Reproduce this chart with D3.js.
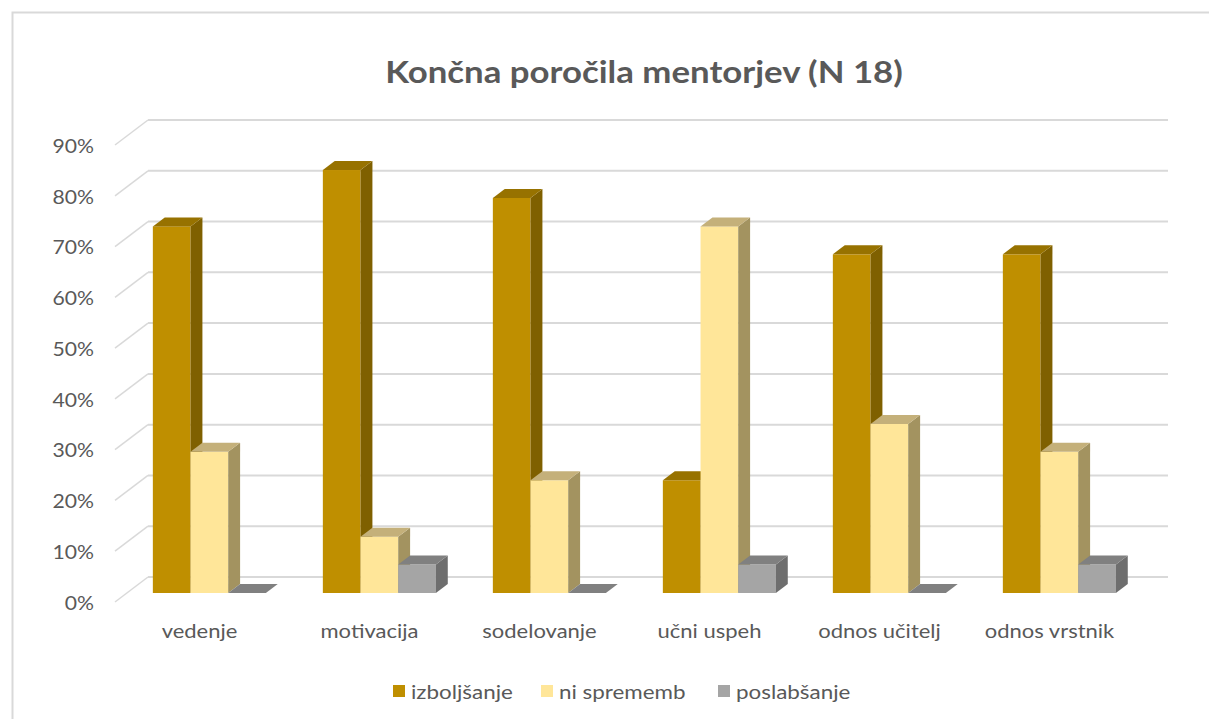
<!DOCTYPE html>
<html lang="sl">
<head>
<meta charset="utf-8">
<title>Končna poročila mentorjev</title>
<script src="https://cdn.jsdelivr.net/npm/d3@7"></script>
<style>
  body { margin: 0; background: #fff; }
  text { font-family: Lato, "Open Sans", sans-serif; fill: #595959; }
</style>
</head>
<body>
<script>
// data
var categories = ["vedenje", "motivacija", "sodelovanje", "učni uspeh", "odnos učitelj", "odnos vrstnik"];
var seriesNames = ["izboljšanje", "ni sprememb", "poslabšanje"];
var izboljsanje = [0.722, 0.833, 0.778, 0.222, 0.667, 0.667];
var niSprememb  = [0.278, 0.111, 0.222, 0.722, 0.333, 0.278];
var poslabsanje = [0, 0.056, 0, 0.056, 0, 0.056];
var yTicks = [0, 0.1, 0.2, 0.3, 0.4, 0.5, 0.6, 0.7, 0.8, 0.9];

var W = 1209, H = 719;
var svg = d3.select("body").append("svg").attr("width", W).attr("height", H);

// chart border (only left/top are in view)
svg.append("rect").attr("x", 12.5).attr("y", 12.5).attr("width", 1300).attr("height", 800)
  .attr("fill", "none").attr("stroke", "#d9d9d9").attr("stroke-width", 2);

// front plane scales + depth offset
var x0 = d3.scaleBand().domain(categories).range([115, 1135])
  .paddingInner(0.335).paddingOuter(0.1675).align(0.456);
var x1 = d3.scaleBand().domain(d3.range(3)).range([0, x0.bandwidth()]);
var y = d3.scaleLinear().domain([0, 0.9]).range([602, 145]);
var DX = 33, DY = -25;
function px(x, d) { return x + DX * d; }
function py(v, d) { return y(v) + DY * d; }

// walls
var grid = svg.append("g");
yTicks.forEach(function(t) {
  grid.append("line")
    .attr("x1", px(115, 0)).attr("y1", py(t, 0))
    .attr("x2", px(115, 1)).attr("y2", py(t, 1))
    .attr("stroke", "#d9d9d9").attr("stroke-width", 1.5);
  grid.append("line")
    .attr("x1", px(115, 1)).attr("y1", py(t, 1))
    .attr("x2", px(1135, 1)).attr("y2", py(t, 1))
    .attr("stroke", "#d9d9d9").attr("stroke-width", 2);
});

// y labels
svg.append("g").selectAll("text").data(yTicks).enter().append("text")
  .attr("transform", function(d) { return "translate(94," + y(d) + ") scale(1.06,1)"; })
  .attr("text-anchor", "end").attr("dominant-baseline", "central")
  .style("font-size", "20px")
  .text(d3.format(".0%"));

// bars
var colors = [
  { front: "#bf8f00", side: "#7f6000", top: "#977200" },
  { front: "#ffe699", side: "#a39360", top: "#c4b07a" },
  { front: "#a5a5a5", side: "#6e6e6e", top: "#808080" }
];
var seriesValues = [izboljsanje, niSprememb, poslabsanje];
var dFront = 0.36, dBack = 0.72;

var bars = [];
categories.forEach(function(c, i) {
  seriesValues.forEach(function(vals, s) {
    bars.push({ cat: c, s: s, v: vals[i] });
  });
});

var barG = svg.append("g");
bars.forEach(function(b) {
  var xl = x0(b.cat) + x1(b.s), xr = xl + x1.bandwidth();
  var col = colors[b.s];
  var g = barG.append("g");
  if (b.v > 0) {
    g.append("rect")
      .attr("x", px(xl, dFront)).attr("y", py(b.v, dFront))
      .attr("width", xr - xl).attr("height", y(0) - y(b.v))
      .attr("fill", col.front);
    g.append("path")
      .attr("d", "M" + px(xr, dFront) + "," + py(0, dFront) +
        "L" + px(xr, dFront) + "," + py(b.v, dFront) +
        "L" + px(xr, dBack) + "," + py(b.v, dBack) +
        "L" + px(xr, dBack) + "," + py(0, dBack) + "Z")
      .attr("fill", col.side);
  }
  g.append("path")
    .attr("d", "M" + px(xl, dFront) + "," + py(b.v, dFront) +
      "L" + px(xr, dFront) + "," + py(b.v, dFront) +
      "L" + px(xr, dBack) + "," + py(b.v, dBack) +
      "L" + px(xl, dBack) + "," + py(b.v, dBack) + "Z")
    .attr("fill", col.top);
});

// category labels
svg.append("g").selectAll("text").data(categories).enter().append("text")
  .attr("transform", function(d) {
    return "translate(" + (x0(d) + x0.bandwidth() / 2 + 2) + ",638) scale(1.1,1)";
  })
  .attr("text-anchor", "middle")
  .style("font-size", "20px")
  .text(function(d) { return d; });

// title
svg.append("text")
  .attr("transform", "translate(644,83) scale(1.16,1)")
  .attr("text-anchor", "middle")
  .style("font-size", "30px").style("font-weight", "bold")
  .text("Končna poročila mentorjev (N 18)");

// legend
var legendX = [393, 541, 718];
var leg = svg.append("g").selectAll("g").data(seriesNames).enter().append("g")
  .attr("transform", function(d, i) { return "translate(" + legendX[i] + ",685)"; });
leg.append("rect").attr("width", 12).attr("height", 12)
  .attr("fill", function(d, i) { return colors[i].front; });
leg.append("text")
  .attr("transform", "translate(18,6) scale(1.12,1)")
  .attr("dominant-baseline", "central")
  .style("font-size", "20px")
  .text(function(d) { return d; });
</script>
</body>
</html>
